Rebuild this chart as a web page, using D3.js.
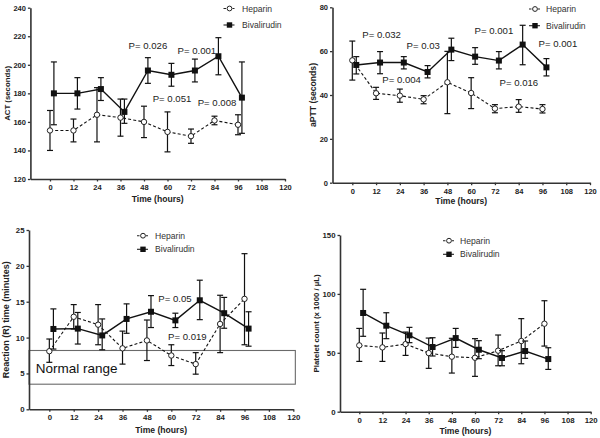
<!DOCTYPE html>
<html><head><meta charset="utf-8">
<script src="https://cdn.jsdelivr.net/npm/d3@7"></script>
<style>
html,body{margin:0;padding:0;background:#fff;}
svg{display:block;}
text{font-family:"Liberation Sans",Arial,sans-serif;}
</style></head>
<body>
<script>
// ---------- DATA ----------
const hours    = [0,12,24,36,48,60,72,84,96];
const bivHours = [2,14,26,38,50,62,74,86,98];   // bivalirudin plotted slightly offset
const xTicks   = [0,12,24,36,48,60,72,84,96,108,120];
const seriesNames = ["Heparin","Bivalirudin"];

// ACT (seconds)
const actHep   = [154,154,165,163,160,153,150,161,158];
const actHepLo = [140,146,146,150,149,139,145,158,151];
const actHepHi = [168,162,184,176,171,167,155,164,165];
const actBiv   = [180,180,183,167,196,193,196,206,177];
const actBivLo = [158,169,175,159,187,185,188,193,152];
const actBivHi = [202,191,191,176,205,201,204,219,202];
const actTicks = [120,140,160,180,200,220,240];
const actP = [{t:"P= 0.026",x:50,y:211.4},{t:"P= 0.001",x:75,y:207.9},{t:"P= 0.051",x:62.3,y:173.6},{t:"P= 0.008",x:85.3,y:170.8}];

// aPTT (seconds)
const apttHep   = [55.8,40.8,39.7,38,45.8,40.9,33.8,34.7,33.6];
const apttHepLo = [46.8,38,36.7,36,31.5,33.8,31.9,32.1,31.8];
const apttHepHi = [64.6,43.5,42.7,39.7,59.9,47.9,35.6,37.9,35.6];
const apttBiv   = [53.7,54.8,54.8,50.5,60.7,57.5,55.7,63,52.6];
const apttBivLo = [49.6,49.7,51.9,47.8,55.7,54,51.9,53.8,48.7];
const apttBivHi = [57.5,59.8,57.5,53.4,65.9,61.6,59.8,71.8,56.6];
const apttTicks = [0,20,40,60,80];
const apttP = [{t:"P= 0.032",x:14.8,y:65.9},{t:"P= 0.03",x:35.8,y:61.2},{t:"P= 0.004",x:24.9,y:45.7},{t:"P= 0.001",x:71.5,y:68},{t:"P= 0.001",x:103.8,y:61.7},{t:"P= 0.016",x:84.1,y:43.9}];

// Reaction (R) time (minutes)
const rHep   = [8.1,12.9,11.8,8.5,9.6,7.5,6.3,11.9,15.4];
const rHepLo = [6.55,11.2,9.0,6.3,6.8,6.1,4.9,7.9,9.0];
const rHepHi = [9.8,14.6,14.6,10.9,12.45,9.0,7.9,15.9,21.7];
const rBiv   = [11.2,11.25,10.3,12.6,13.6,12.4,15.2,13.4,11.25];
const rBivLo = [8.4,9.1,8.3,10.6,11.4,11.4,12.5,11.3,8.8];
const rBivHi = [14.0,13.5,12.6,14.7,15.85,13.4,18.0,15.6,13.6];
const rTicks = [0,5,10,15,20,25];
const rNormal = [3.5,8.2];
const rP = [{t:"P= 0.05",x:61.8,y:14.9},{t:"P= 0.019",x:67.9,y:9.63}];

// Platelet count (x 1000 / µL)
const pltHep   = [56.3,54.6,57.4,49.8,46.7,45.8,51.8,60,74.7];
const pltHepLo = [42.7,42.7,47.8,36.8,32.8,30,39,40.7,55.7];
const pltHepHi = [70.7,66.8,67.6,62.5,62.3,62,65.1,79,94.2];
const pltBiv   = [83.8,73,64.8,54.9,62.5,52.6,45.6,51.5,44.7];
const pltBivLo = [64,62,58.6,47.3,54.6,45,39,45.3,35.9];
const pltBivHi = [103.9,84,71.6,62.8,70.7,60.3,51.8,60,54.3];
const pltTicks = [0,50,100,150];

// ---------- DRAWING ----------
const svg = d3.select("body").append("svg").attr("width",600).attr("height",438);

function panel(cfg){
  const x = d3.scaleLinear().domain([-10,120]).range(cfg.xr);
  const y = d3.scaleLinear().domain([cfg.ticks[0], cfg.ticks[cfg.ticks.length-1]]).range(cfg.yr);
  const g = svg.append("g");

  // normal range box
  if (cfg.normal){
    g.append("rect")
      .attr("x", x(-10)).attr("y", y(cfg.normal[1]))
      .attr("width", x(121)-x(-10)).attr("height", y(cfg.normal[0])-y(cfg.normal[1]))
      .attr("fill","none").attr("stroke","#6a6a6a").attr("stroke-width",1.1);
    g.append("text").attr("x", x(-6.7)).attr("y", y(5.06))
      .attr("font-size", 13.5).attr("fill","#111").text("Normal range");
  }

  // axes
  const xa = d3.axisBottom(x).tickValues(xTicks).tickSize(2.5).tickPadding(3).tickSizeOuter(0);
  const gx = g.append("g").attr("transform",`translate(0,${cfg.yr[0]})`).call(xa);
  const ya = d3.axisLeft(y).tickValues(cfg.ticks).tickSize(2.5).tickPadding(2).tickSizeOuter(0);
  const gy = g.append("g").attr("transform",`translate(${x(-10)},0)`).call(ya);
  [gx,gy].forEach(a=>{
    a.select(".domain").attr("stroke","#333").attr("stroke-width",1.6);
    a.selectAll(".tick line").attr("stroke","#333").attr("stroke-width",1.3);
    a.selectAll(".tick text").attr("font-size",cfg.tickFs).attr("font-weight","bold").attr("fill","#222")
      .attr("font-family","'Liberation Sans',Arial,sans-serif");
  });

  // axis titles
  g.append("text").attr("x",(x(-10)+x(120))/2).attr("y",cfg.xlabY)
    .attr("text-anchor","middle").attr("font-size",8.6).attr("font-weight","bold").attr("fill","#222")
    .text("Time (hours)");
  g.append("text").attr("transform",`translate(${cfg.ylabX},${(cfg.yr[0]+cfg.yr[1])/2}) rotate(-90)`)
    .attr("text-anchor","middle").attr("font-size",cfg.ylabFs).attr("font-weight","bold").attr("fill","#222")
    .text(cfg.ylab);

  const line = d3.line().x(d=>x(d[0])).y(d=>y(d[1]));
  const series = [
    {xs:hours, v:cfg.hep, lo:cfg.hepLo, hi:cfg.hepHi, dash:"3,2.2", sw:1.1},
    {xs:bivHours, v:cfg.biv, lo:cfg.bivLo, hi:cfg.bivHi, dash:null, sw:1.4}
  ];
  series.forEach((s,k)=>{
    const pts = s.xs.map((t,i)=>[t,s.v[i]]);
    g.append("path").datum(pts).attr("d",line).attr("fill","none")
      .attr("stroke","#111").attr("stroke-width",s.sw).attr("stroke-dasharray",s.dash);
    const eb = g.append("g").attr("stroke","#111").attr("stroke-width",1.2);
    s.xs.forEach((t,i)=>{
      const cx = x(t);
      eb.append("line").attr("x1",cx).attr("x2",cx).attr("y1",y(s.lo[i])).attr("y2",y(s.hi[i]));
      eb.append("line").attr("x1",cx-3).attr("x2",cx+3).attr("y1",y(s.lo[i])).attr("y2",y(s.lo[i]));
      eb.append("line").attr("x1",cx-3).attr("x2",cx+3).attr("y1",y(s.hi[i])).attr("y2",y(s.hi[i]));
    });
    if (k===0){
      g.append("g").selectAll("circle").data(pts).join("circle")
        .attr("cx",d=>x(d[0])).attr("cy",d=>y(d[1])).attr("r",2.7)
        .attr("fill","#fff").attr("stroke","#222").attr("stroke-width",1);
    } else {
      g.append("g").selectAll("rect").data(pts).join("rect")
        .attr("x",d=>x(d[0])-3).attr("y",d=>y(d[1])-3).attr("width",6).attr("height",6)
        .attr("fill","#111");
    }
  });

  // p-values
  (cfg.p||[]).forEach(p=>{
    g.append("text").attr("x",x(p.x)).attr("y",y(p.y)).attr("text-anchor","middle")
      .attr("font-size",9.6).attr("fill","#222").text(p.t);
  });

  // legend
  const L = cfg.legend;
  seriesNames.forEach((nm,k)=>{
    const ly = L.y[k];
    g.append("line").attr("x1",L.sx-6).attr("x2",L.sx+5).attr("y1",ly).attr("y2",ly)
      .attr("stroke","#222").attr("stroke-width",1.1).attr("stroke-dasharray",k===0?"2.5,2":null);
    if (k===0) g.append("circle").attr("cx",L.sx).attr("cy",ly).attr("r",2.4)
      .attr("fill","#fff").attr("stroke","#222");
    else g.append("rect").attr("x",L.sx-2.7).attr("y",ly-2.7).attr("width",5.4).attr("height",5.4).attr("fill","#111");
    g.append("text").attr("x",L.tx).attr("y",ly+3).attr("font-size",8.6).attr("fill","#333").text(nm);
  });
}

panel({xr:[30.4,285], yr:[179,7.7], ticks:actTicks, tickFs:7.5,
  hep:actHep,hepLo:actHepLo,hepHi:actHepHi,biv:actBiv,bivLo:actBivLo,bivHi:actBivHi,
  ylab:"ACT (seconds)", ylabX:10, ylabFs:7.8, xlabY:202, p:actP,
  legend:{sx:229.5,tx:242,y:[8.5,25]}});

panel({xr:[332.5,590], yr:[182.7,7.3], ticks:apttTicks, tickFs:7.5,
  hep:apttHep,hepLo:apttHepLo,hepHi:apttHepHi,biv:apttBiv,bivLo:apttBivLo,bivHi:apttBivHi,
  ylab:"aPTT (seconds)", ylabX:315.5, ylabFs:8.6, xlabY:204, p:apttP,
  legend:{sx:535,tx:546,y:[9,25.7]}});

panel({xr:[29,293.3], yr:[409.3,230], ticks:rTicks, tickFs:7.8, normal:rNormal,
  hep:rHep,hepLo:rHepLo,hepHi:rHepHi,biv:rBiv,bivLo:rBivLo,bivHi:rBivHi,
  ylab:"Reaction (R) time (minutes)", ylabX:9, ylabFs:9, xlabY:433, p:rP,
  legend:{sx:143,tx:155,y:[235.7,249.3]}});

panel({xr:[340,590.7], yr:[411.7,235], ticks:pltTicks, tickFs:7.8,
  hep:pltHep,hepLo:pltHepLo,hepHi:pltHepHi,biv:pltBiv,bivLo:pltBivLo,bivHi:pltBivHi,
  ylab:"Platelet count (x 1000 / µL)", ylabX:319, ylabFs:7.8, xlabY:434, p:[],
  legend:{sx:449,tx:460,y:[240.7,254.3]}});
</script>
</body></html>
